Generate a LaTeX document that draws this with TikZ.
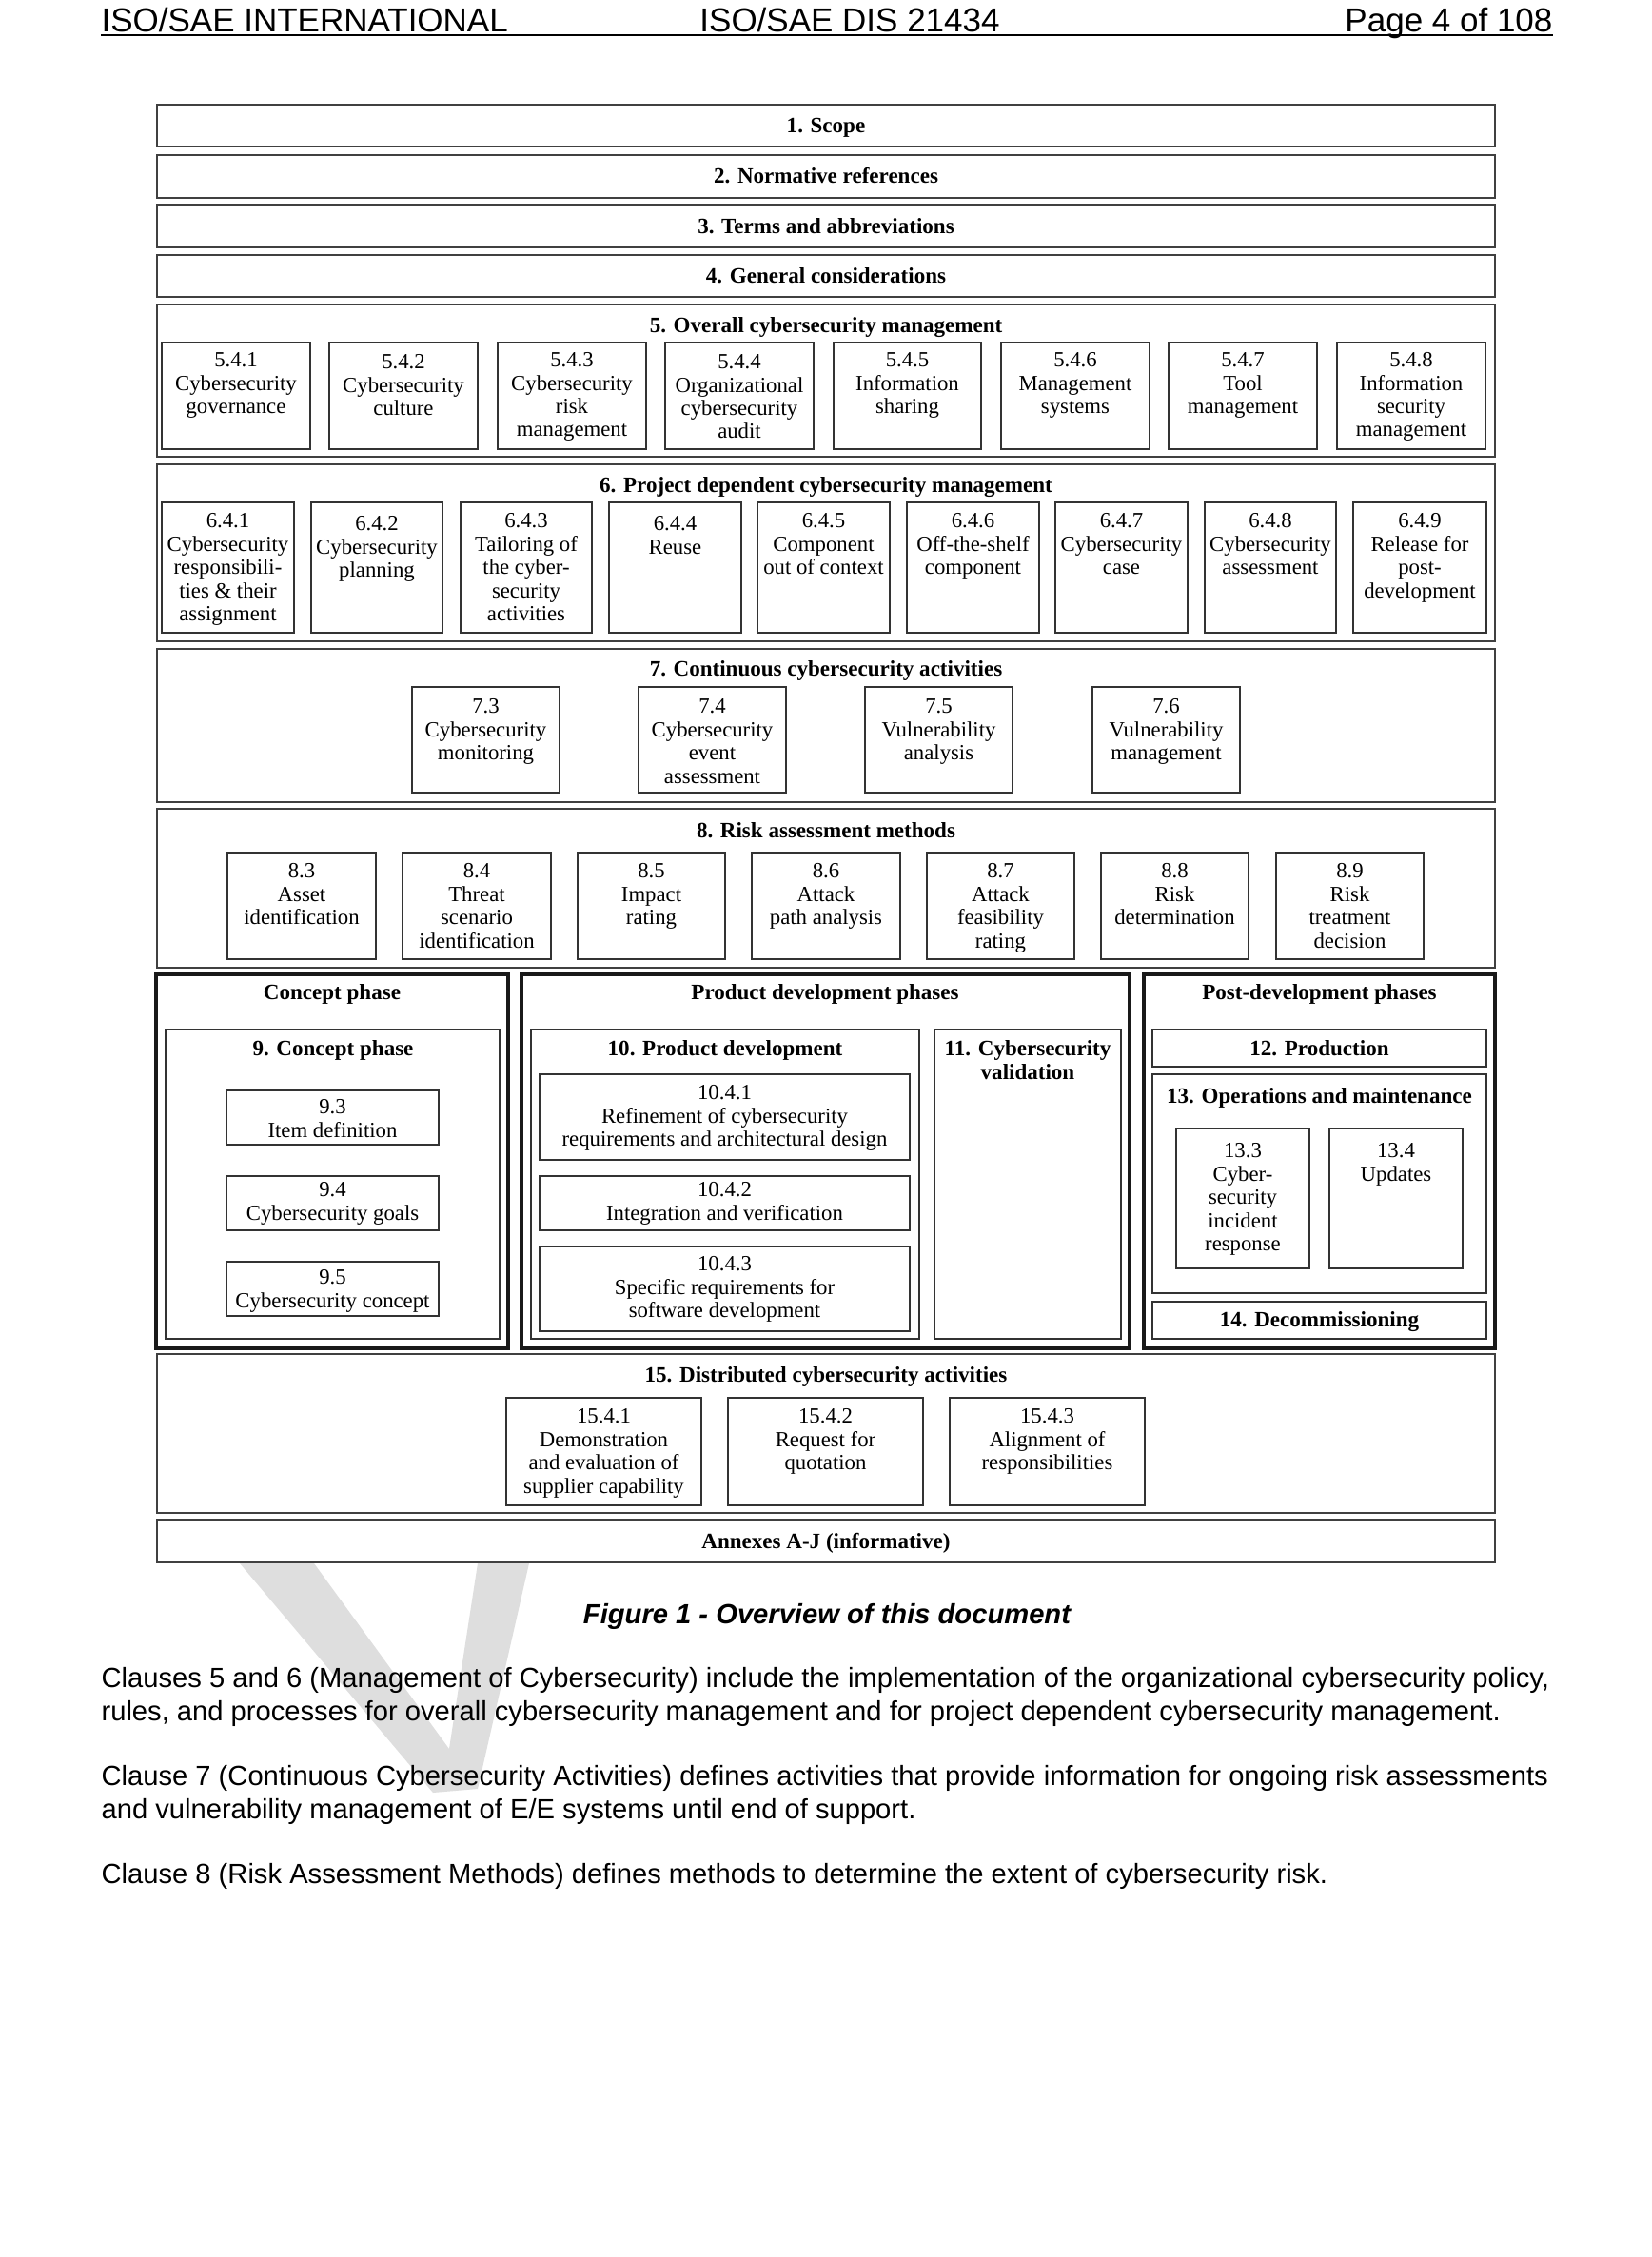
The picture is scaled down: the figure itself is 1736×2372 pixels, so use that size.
\documentclass[tikz,border=0pt]{standalone}
\usepackage{fontspec}
\setmainfont{Liberation Serif}
\newfontfamily\arialf{Liberation Sans}
\newcommand\ml[1]{\begin{tabular}[t]{@{}c@{}}#1\end{tabular}}
% #1 baseline offset from top, #2 name, #3 x1, #4 y1, #5 x2, #6 y2, #7 text
\newcommand\cellbx[7][26.5]{%
  \draw[subbox] (#3,#4) rectangle (#5,#6);
  \node[lbl] (#2) at ({(#3+#5)/2},{#4+#1}) {\ml{#7}};}
\begin{document}
\begin{tikzpicture}[x=0.342903pt,y=-0.342903pt,
  rowbox/.style={draw=black!75,line width=1pt},
  subbox/.style={draw=black!80,line width=0.75pt},
  phasebox/.style={draw=black!90,line width=1.6pt},
  ttl/.style={inner sep=0pt,anchor=base,font=\fontsize{7.9}{8.6}\selectfont\bfseries},
  lbl/.style={inner sep=0pt,anchor=base,font=\fontsize{7.8}{8.4}\selectfont},
  body/.style={inner sep=0pt,anchor=base west,font=\arialf\fontsize{10}{12}\selectfont},
  hdr/.style={inner sep=0pt,font=\arialf\fontsize{12}{14}\selectfont}]
\useasboundingbox[fill=white] (0,0) rectangle (1736,2372);

% watermark
\fill[black!13] (252,1643) -- (330,1643) -- (472,1838) -- (502,1643) -- (556,1643)
  -- (502,1880) -- (455,1884) -- cycle;

% header
\node[hdr,anchor=base west] (h1) at (106,33) {ISO/SAE INTERNATIONAL};
\node[hdr,anchor=base] (h2) at (893,33) {ISO/SAE DIS 21434};
\node[hdr,anchor=base east] (h3) at (1632,33) {Page 4 of 108};
\coordinate (ul1) at (106,37);
\coordinate (ul2) at (1632,37);
\draw[line width=0.8pt] (ul1) -- (ul2);

% rows 1-4
\draw[rowbox] (165,110) rectangle (1571,154);
\node[ttl] (t1) at (868,139.5) {1. Scope};
\draw[rowbox] (165,163) rectangle (1571,208);
\node[ttl] (t2) at (868,192.5) {2. Normative references};
\draw[rowbox] (165,215) rectangle (1571,260);
\node[ttl] (t3) at (868,245.5) {3. Terms and abbreviations};
\draw[rowbox] (165,268) rectangle (1571,312);
\node[ttl] (t4) at (868,297.5) {4. General considerations};

% row 5
\draw[rowbox] (165,320) rectangle (1571,480);
\node[ttl] (t5) at (868,349.5) {5. Overall cybersecurity management};
\cellbx[25.5]{b541}{170}{360}{326}{472}{5.4.1\\Cybersecurity\\governance}
\cellbx[27.5]{b542}{346}{360}{502}{472}{5.4.2\\Cybersecurity\\culture}
\cellbx[25.5]{b543}{523}{360}{679}{472}{5.4.3\\Cybersecurity\\risk\\management}
\cellbx[27.5]{b544}{699}{360}{855}{472}{5.4.4\\Organizational\\cybersecurity\\audit}
\cellbx[25.5]{b545}{876}{360}{1031}{472}{5.4.5\\Information\\sharing}
\cellbx[25.5]{b546}{1052}{360}{1208}{472}{5.4.6\\Management\\systems}
\cellbx[25.5]{b547}{1228}{360}{1384}{472}{5.4.7\\Tool\\management}
\cellbx[25.5]{b548}{1405}{360}{1561}{472}{5.4.8\\Information\\security\\management}

% row 6
\draw[rowbox] (165,488) rectangle (1571,674);
\node[ttl] (t6) at (868,517.5) {6. Project dependent cybersecurity management};
\cellbx{b641}{170}{528}{309}{665}{6.4.1\\Cybersecurity\\responsibili-\\ties \& their\\assignment}
\cellbx[29.5]{b642}{327}{528}{465}{665}{6.4.2\\Cybersecurity\\planning}
\cellbx{b643}{484}{528}{622}{665}{6.4.3\\Tailoring of\\the cyber-\\security\\activities}
\cellbx[29.5]{b644}{640}{528}{779}{665}{6.4.4\\Reuse}
\cellbx{b645}{796}{528}{935}{665}{6.4.5\\Component\\out of context}
\cellbx{b646}{953}{528}{1092}{665}{6.4.6\\Off-the-shelf\\component}
\cellbx{b647}{1109}{528}{1248}{665}{6.4.7\\Cybersecurity\\case}
\cellbx{b648}{1266}{528}{1404}{665}{6.4.8\\Cybersecurity\\assessment}
\cellbx{b649}{1422}{528}{1562}{665}{6.4.9\\Release for\\post-\\development}

% row 7
\draw[rowbox] (165,682) rectangle (1571,843);
\node[ttl] (t7) at (868,710.5) {7. Continuous cybersecurity activities};
\cellbx[27.5]{b73}{433}{722}{588}{833}{7.3\\Cybersecurity\\monitoring}
\cellbx[27.5]{b74}{671}{722}{826}{833}{7.4\\Cybersecurity\\event\\assessment}
\cellbx[27.5]{b75}{909}{722}{1064}{833}{7.5\\Vulnerability\\analysis}
\cellbx[27.5]{b76}{1148}{722}{1303}{833}{7.6\\Vulnerability\\management}

% row 8
\draw[rowbox] (165,850) rectangle (1571,1017);
\node[ttl] (t8) at (868,880.5) {8. Risk assessment methods};
\cellbx{b83}{239}{896}{395}{1008}{8.3\\Asset\\identification}
\cellbx{b84}{423}{896}{579}{1008}{8.4\\Threat\\scenario\\identification}
\cellbx{b85}{607}{896}{762}{1008}{8.5\\Impact\\rating}
\cellbx{b86}{790}{896}{946}{1008}{8.6\\Attack\\path analysis}
\cellbx{b87}{974}{896}{1129}{1008}{8.7\\Attack\\feasibility\\rating}
\cellbx{b88}{1157}{896}{1312}{1008}{8.8\\Risk\\determination}
\cellbx{b89}{1341}{896}{1496}{1008}{8.9\\Risk\\treatment\\decision}

% concept phase
\draw[phasebox] (164,1024) rectangle (534,1417);
\node[ttl] (tcp) at (349,1050.5) {Concept phase};
\draw[subbox] (174,1082) rectangle (525,1407);
\node[ttl] (t9) at (350,1109.5) {9. Concept phase};
\cellbx[24.5]{b93}{238}{1146}{461}{1203}{9.3\\Item definition}
\cellbx[21.5]{b94}{238}{1236}{461}{1293}{9.4\\Cybersecurity goals}
\cellbx[23.5]{b95}{238}{1326}{461}{1383}{9.5\\Cybersecurity concept}

% product development phases
\draw[phasebox] (548,1024) rectangle (1187,1417);
\node[ttl] (tpd) at (867,1050.5) {Product development phases};
\draw[subbox] (558,1082) rectangle (966,1407);
\node[ttl] (t10) at (762,1109.5) {10. Product development};
\cellbx[26.5]{b1041}{567}{1129}{956}{1219}{10.4.1\\Refinement of cybersecurity\\requirements and architectural design}
\cellbx[21.5]{b1042}{567}{1236}{956}{1293}{10.4.2\\Integration and verification}
\cellbx[25.5]{b1043}{567}{1310}{956}{1399}{10.4.3\\Specific requirements for\\software development}
\draw[subbox] (982,1082) rectangle (1178,1407);
\node[ttl] (t11) at (1080,1109.5) {\begin{tabular}[t]{@{}c@{}}11. Cybersecurity\\validation\end{tabular}};

% post-development phases
\draw[phasebox] (1202,1024) rectangle (1571,1417);
\node[ttl] (tpo) at (1386.5,1050.5) {Post-development phases};
\draw[subbox] (1211,1082) rectangle (1562,1121);
\node[ttl] (t12) at (1386.5,1109.5) {12. Production};
\draw[subbox] (1211,1129) rectangle (1562,1359);
\node[ttl] (t13) at (1386.5,1159.5) {13. Operations and maintenance};
\cellbx[30.5]{b133}{1236}{1186}{1376}{1333}{13.3\\Cyber-\\security\\incident\\response}
\cellbx[30.5]{b134}{1397}{1186}{1537}{1333}{13.4\\Updates}
\draw[subbox] (1211,1368) rectangle (1562,1407);
\node[ttl] (t14) at (1386.5,1394.5) {14. Decommissioning};

% row 15
\draw[rowbox] (165,1423) rectangle (1571,1590);
\node[ttl] (t15) at (868,1452.5) {15. Distributed cybersecurity activities};
\cellbx{b1541}{532}{1469}{737}{1582}{15.4.1\\Demonstration\\and evaluation of\\supplier capability}
\cellbx{b1542}{765}{1469}{970}{1582}{15.4.2\\Request for\\quotation}
\cellbx{b1543}{998}{1469}{1203}{1582}{15.4.3\\Alignment of\\responsibilities}

% annexes
\draw[rowbox] (165,1597) rectangle (1571,1642);
\node[ttl] (tan) at (868,1627.5) {Annexes A-J (informative)};

% caption and body
\node[inner sep=0pt,anchor=base,font=\arialf\fontsize{10}{12}\selectfont\bfseries\itshape] (cap) at (869,1706) {Figure 1 - Overview of this document};
\node[body] (p1a) at (106,1773) {Clauses 5 and 6 (Management of Cybersecurity) include the implementation of the organizational cybersecurity policy,};
\node[body] (p1b) at (106,1808) {rules, and processes for overall cybersecurity management and for project dependent cybersecurity management.};
\node[body] (p2a) at (106,1876) {Clause 7 (Continuous Cybersecurity Activities) defines activities that provide information for ongoing risk assessments};
\node[body] (p2b) at (106,1911) {and vulnerability management of E/E systems until end of support.};
\node[body] (p3a) at (106,1979) {Clause 8 (Risk Assessment Methods) defines methods to determine the extent of cybersecurity risk.};
\end{tikzpicture}
\end{document}
